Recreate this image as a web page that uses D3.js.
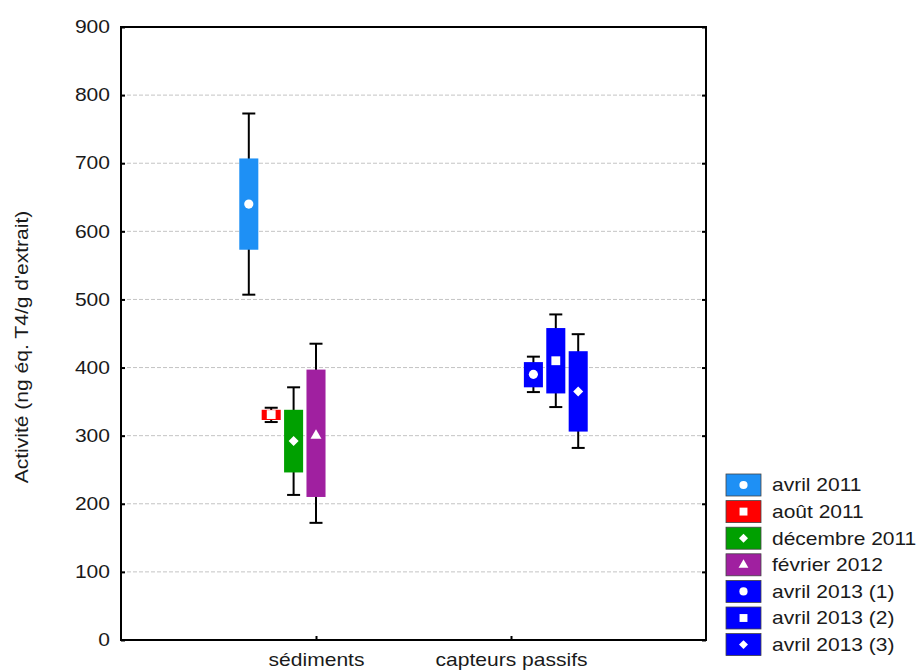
<!DOCTYPE html>
<html>
<head>
<meta charset="utf-8">
<script src="https://cdn.jsdelivr.net/npm/d3@7"></script>
<style>
  html, body { margin: 0; padding: 0; background: #fff; }
  svg { display: block; font-family: "Liberation Sans", Arial, sans-serif; }
</style>
</head>
<body>
<svg id="chart" width="919" height="672"></svg>
<script>
// Groups on the x axis and the series drawn in each of them
const categories = ["sédiments", "capteurs passifs"];
const series = ["avril 2011", "août 2011", "décembre 2011", "février 2012",
                "avril 2013 (1)", "avril 2013 (2)", "avril 2013 (3)"];
const seriesCategory = ["sédiments", "sédiments", "sédiments", "sédiments",
                        "capteurs passifs", "capteurs passifs", "capteurs passifs"];

// Mean, box (low/high) and whisker (low/high) per series
const means       = [640, 331, 292, 300, 390, 410, 365];
const boxLow      = [573, 323, 246, 210, 371, 362, 306];
const boxHigh     = [707, 338, 338, 397, 408, 458, 424];
const whiskerLow  = [507, 320, 213, 172, 364, 342, 282];
const whiskerHigh = [773, 341, 371, 435, 416, 478, 449];

const colors  = ["#1e90f5", "#ff0000", "#00a000", "#a020a0", "#0000ff", "#0000ff", "#0000ff"];
const markers = ["circle", "square", "diamond", "triangle", "circle", "square", "diamond"];

const yTicks = [0, 100, 200, 300, 400, 500, 600, 700, 800, 900];
const yTitle = "Activité (ng éq. T4/g d'extrait)";

// Layout
const plot = { left: 121, right: 706, top: 27, bottom: 640 };
const stretch = 1.17; // horizontal widening of the text glyphs
const textColor = "#1a1a1a";

const svg = d3.select("#chart");

const x = d3.scalePoint().domain(categories).range([plot.left, plot.right]).padding(1);
const y = d3.scaleLinear().domain([0, 900]).range([plot.bottom, plot.top]);
const slotWidth = 22.4;
const slot = d3.scaleBand().domain(d3.range(series.length))
  .range([-3.5 * slotWidth, 3.5 * slotWidth]).paddingInner(0.15).paddingOuter(0.075);

// Grid lines
svg.append("g").selectAll("line")
  .data(yTicks.filter(t => t > 0 && t < 900))
  .join("line")
  .attr("x1", plot.left).attr("x2", plot.right)
  .attr("y1", d => y(d)).attr("y2", d => y(d))
  .attr("stroke", "#c4c4c4").attr("stroke-width", 1)
  .attr("stroke-dasharray", "4,2");

// Left axis with labels
const yAxis = svg.append("g")
  .attr("transform", `translate(${plot.left},0)`)
  .call(d3.axisLeft(y).tickValues(yTicks).tickSizeInner(-4).tickSizeOuter(0).tickPadding(9.4));
yAxis.select(".domain").remove();
yAxis.selectAll("line").attr("stroke", "#000").attr("stroke-width", 2);
yAxis.selectAll("text").attr("font-size", 18).attr("fill", textColor)
  .attr("font-family", "Liberation Sans, Arial, sans-serif")
  .attr("transform", `scale(${stretch},1)`);

// Right axis, ticks only
const yAxisR = svg.append("g")
  .attr("transform", `translate(${plot.right},0)`)
  .call(d3.axisRight(y).tickValues(yTicks).tickSizeInner(-4).tickSizeOuter(0).tickFormat(""));
yAxisR.select(".domain").remove();
yAxisR.selectAll("line").attr("stroke", "#000").attr("stroke-width", 2);

// Bottom axis with group labels
const xAxis = svg.append("g")
  .attr("transform", `translate(0,${plot.bottom})`)
  .call(d3.axisBottom(x).tickSizeInner(-4).tickSizeOuter(0).tickPadding(13.5));
xAxis.select(".domain").remove();
xAxis.selectAll("line").attr("stroke", "#000").attr("stroke-width", 2);
xAxis.selectAll("text").attr("font-size", 18).attr("fill", textColor)
  .attr("font-family", "Liberation Sans, Arial, sans-serif")
  .attr("transform", `scale(${stretch},1)`);

// Frame
svg.append("rect")
  .attr("x", plot.left).attr("y", plot.top)
  .attr("width", plot.right - plot.left).attr("height", plot.bottom - plot.top)
  .attr("fill", "none").attr("stroke", "#000").attr("stroke-width", 2);

// Y title
svg.append("text")
  .attr("transform", `translate(28,347) rotate(-90) scale(${stretch},1)`)
  .attr("text-anchor", "middle")
  .attr("font-size", 18).attr("fill", textColor)
  .text(yTitle);

// Marker shapes
function markerPath(kind, scale) {
  const s = scale || 1;
  if (kind === "circle") return d3.symbol(d3.symbolCircle, 66 * s)();
  if (kind === "square") return d3.symbol(d3.symbolSquare, 78 * s)();
  if (kind === "diamond") return d3.symbol(d3.symbolSquare, 50 * s)();
  return d3.symbol(d3.symbolTriangle, 52 * s)();
}

const centerX = i => x(seriesCategory[i]) + slot(i) + slot.bandwidth() / 2;
const capHalf = 6.5;
const idx = d3.range(series.length);

const boxes = svg.append("g").selectAll("g").data(idx).join("g");

// Whisker stems
boxes.append("line")
  .attr("x1", centerX).attr("x2", centerX)
  .attr("y1", i => y(whiskerHigh[i])).attr("y2", i => y(whiskerLow[i]))
  .attr("stroke", "#000").attr("stroke-width", 2);
// Caps
boxes.append("line")
  .attr("x1", i => centerX(i) - capHalf).attr("x2", i => centerX(i) + capHalf)
  .attr("y1", i => y(whiskerHigh[i])).attr("y2", i => y(whiskerHigh[i]))
  .attr("stroke", "#000").attr("stroke-width", 2);
boxes.append("line")
  .attr("x1", i => centerX(i) - capHalf).attr("x2", i => centerX(i) + capHalf)
  .attr("y1", i => y(whiskerLow[i])).attr("y2", i => y(whiskerLow[i]))
  .attr("stroke", "#000").attr("stroke-width", 2);
// Boxes
boxes.append("rect")
  .attr("x", i => centerX(i) - slot.bandwidth() / 2)
  .attr("width", slot.bandwidth())
  .attr("y", i => y(boxHigh[i]))
  .attr("height", i => y(boxLow[i]) - y(boxHigh[i]))
  .attr("fill", i => colors[i]);
// Mean markers
boxes.append("path")
  .attr("d", i => markerPath(markers[i]))
  .attr("transform", i => `translate(${centerX(i)},${y(means[i])})${markers[i] === "diamond" ? " rotate(45)" : ""}`)
  .attr("fill", "#fff");

// Legend
const legendX = 726, legendTop = 474, legendStep = 26.6, swW = 35, swH = 22;
const legend = svg.append("g").selectAll("g").data(idx).join("g")
  .attr("transform", i => `translate(${legendX},${legendTop + i * legendStep})`);
legend.append("rect")
  .attr("width", swW).attr("height", swH)
  .attr("fill", i => colors[i])
  .attr("stroke", "#444").attr("stroke-width", 0.8);
legend.append("path")
  .attr("d", i => markerPath(markers[i], 0.8))
  .attr("transform", i => `translate(${swW / 2},${swH / 2})${markers[i] === "diamond" ? " rotate(45)" : ""}`)
  .attr("fill", "#fff");
legend.append("text")
  .attr("transform", `translate(46,${swH / 2}) scale(1.2,1)`)
  .attr("dy", "0.36em")
  .attr("font-size", 17.5).attr("fill", textColor)
  .text(i => series[i]);
</script>
</body>
</html>
